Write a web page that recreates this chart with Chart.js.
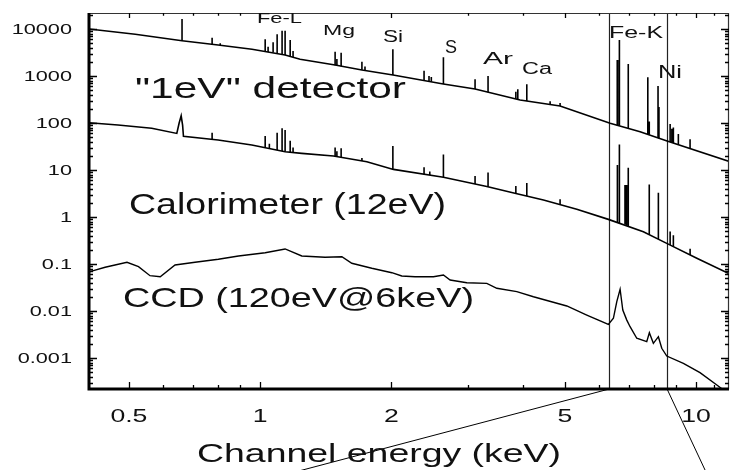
<!DOCTYPE html>
<html>
<head>
<meta charset="utf-8">
<script src="https://cdn.jsdelivr.net/npm/chart.js@4.4.1/dist/chart.umd.min.js"></script>
<style>
  html, body { margin: 0; padding: 0; background: #fff; }
  canvas { display: block; }
</style>
</head>
<body>
<canvas id="spec" width="732" height="470"></canvas>
<script>
// ---- data (energy in keV, counts per channel) ----

// "1eV" detector continuum
const ev1Energy = [0.405, 0.517, 0.662, 0.801, 0.958, 1.141, 1.235, 1.486, 1.712, 2.018, 2.632, 3.112, 3.947, 4.876, 6.35, 7.44, 8.58, 11.97];
const ev1Counts = [10000, 7710, 5640, 4570, 3700, 2800, 2270, 1710, 1340, 1050, 676, 529, 309, 230, 98.6, 65.3, 41.4, 15.0];

// "1eV" detector emission lines: energy, foot, peak
const ev1LineEnergy = [0.662, 0.776, 0.81, 1.027, 1.043, 1.071, 1.094, 1.123, 1.141, 1.172, 1.19, 1.486, 1.50, 1.534, 1.712, 1.74, 2.016, 2.377, 2.44, 2.47, 2.633, 3.112, 3.333, 3.86, 3.90, 4.09, 4.626, 4.876, 6.595, 6.61, 6.67, 6.99, 7.75, 7.81, 8.18, 8.22, 8.72, 8.80, 8.87, 9.107, 9.688];
const ev1LineBase = [5640, 4730, 4550, 3300, 3250, 3150, 3000, 2900, 2800, 2650, 2550, 1700, 1680, 1620, 1340, 1310, 1050, 800, 766, 750, 676, 529, 453, 325, 322, 294, 248, 230, 89, 88, 87, 77, 57, 56, 48, 47, 39.4, 38.5, 37.4, 34.5, 28.6];
const ev1LineTop = [16300, 6530, 5000, 6040, 4200, 5200, 7710, 9200, 9200, 5800, 3400, 3290, 2300, 3130, 2020, 1600, 3700, 1300, 1000, 950, 2500, 851, 1000, 460, 521, 666, 290, 265, 2190, 2190, 5830, 1800, 940, 107, 612, 219, 95, 75, 80, 58, 45];

// Calorimeter (12eV) continuum
const calEnergy = [0.405, 0.472, 0.564, 0.644, 0.652, 0.659, 0.664, 0.667, 0.801, 0.957, 1.141, 1.246, 1.473, 1.757, 2.022, 2.633, 3.311, 3.84, 4.466, 5.326, 6.293, 7.57, 8.566, 10.04, 11.97];
const calCounts = [101, 90.6, 77.1, 60, 100, 142, 90, 52, 43.5, 34, 24.5, 22.6, 19.9, 15, 10.3, 7.0, 4.46, 3.2, 2.30, 1.46, 0.89, 0.487, 0.275, 0.132, 0.061];

// Calorimeter emission lines: energy, foot, peak
const calLineEnergy = [0.776, 1.027, 1.05, 1.094, 1.123, 1.141, 1.172, 1.19, 1.486, 1.50, 1.534, 1.712, 2.016, 2.377, 2.45, 2.633, 3.112, 3.333, 3.86, 4.09, 4.876, 6.60, 6.67, 6.87, 6.90, 6.93, 6.99, 7.81, 8.195, 8.72, 8.87, 9.69];
const calLineBase = [44.9, 29.8, 28.6, 26.6, 25.3, 24.5, 23.9, 23.6, 19.7, 19.4, 18.8, 15.6, 10.4, 8.13, 7.78, 7.0, 5.04, 4.4, 3.2, 2.79, 1.83, 0.76, 0.74, 0.69, 0.68, 0.66, 0.63, 0.42, 0.339, 0.253, 0.234, 0.155];
const calLineTop = [62, 53, 36, 62, 77, 71, 42, 30, 30, 25, 29, 18, 32.5, 11.4, 9.3, 21.5, 7.45, 8.8, 4.57, 5.3, 2.38, 12.8, 35, 4.8, 4.8, 4.8, 11.2, 4.9, 3.3, 0.49, 0.41, 0.21];

// CCD (120eV@6keV)
const ccdEnergy = [0.405, 0.441, 0.495, 0.526, 0.559, 0.590, 0.638, 0.709, 0.802, 0.892, 1.027, 1.141, 1.246, 1.409, 1.540, 1.623, 1.804, 2.005, 2.113, 2.267, 2.498, 2.633, 2.728, 2.979, 3.311, 3.491, 3.880, 4.236, 5.052, 5.615, 6.293, 6.462, 6.579, 6.695, 6.791, 6.936, 7.057, 7.311, 7.707, 7.814, 7.981, 8.195, 8.343, 8.566, 9.352, 10.21, 11.16, 11.97];
const ccdCounts = [0.068, 0.0851, 0.1087, 0.0877, 0.0564, 0.0537, 0.0952, 0.1087, 0.126, 0.148, 0.174, 0.209, 0.148, 0.139, 0.143, 0.1035, 0.081, 0.0653, 0.0556, 0.0537, 0.0537, 0.0583, 0.0457, 0.040, 0.0388, 0.0304, 0.0258, 0.0201, 0.0128, 0.0082, 0.0052, 0.0070, 0.0158, 0.029, 0.0105, 0.0064, 0.00463, 0.00263, 0.00222, 0.00345, 0.00205, 0.00284, 0.00161, 0.0011, 0.00077, 0.000487, 0.000267, 0.000163];

// Fe-K window markers
const fekBand = [6.32, 8.58];

// axes
const xRange = [0.405, 11.9];
const yRange = [2.19e-4, 21900];
const xTickValues = [0.5, 1, 2, 5, 10];
const xTickLabels = ['0.5', '1', '2', '5', '10'];
const xMinorTicks = [0.6, 0.7, 0.8, 0.9, 3, 4, 6, 7, 8, 9, 11];
const yTickValues = [0.001, 0.01, 0.1, 1, 10, 100, 1000, 10000];
const yTickLabels = ['0.001', '0.01', '0.1', '1', '10', '100', '1000', '10000'];

// ---- helpers ----
const FONT = '"Liberation Sans", Arial, Helvetica, sans-serif';

function toPoints(xs, ys) {
  return xs.map((x, i) => ({ x, y: ys[i] }));
}

// every line becomes a vertical stroke; a null breaks the path between them
function spikePoints(energy, base, top) {
  const pts = [];
  energy.forEach((e, i) => {
    pts.push({ x: e, y: base[i] }, { x: e, y: top[i] }, { x: e, y: null });
  });
  return pts;
}

// text drawn horizontally stretched, like the scanned original
function drawLabel(ctx, str, x, y, size, opt) {
  ctx.save();
  ctx.font = `${size}px ${FONT}`;
  const w = ctx.measureText(str).width;
  const sx = opt.width ? opt.width / w : (opt.sx || 1);
  const full = w * sx;
  let left = x;
  if (opt.align === 'center') left = x - full / 2;
  else if (opt.align === 'right') left = x - full;
  ctx.translate(left, y);
  ctx.scale(sx, 1);
  ctx.textAlign = 'left';
  ctx.textBaseline = 'alphabetic';
  ctx.fillStyle = '#111';
  ctx.fillText(str, 0, 0);
  ctx.restore();
}

const yMinorTicks = [];
for (let p = -4; p <= 4; p++) {
  for (let m = 2; m <= 9; m++) yMinorTicks.push(m * Math.pow(10, p));
}

const framePlugin = {
  id: 'frame',
  beforeDatasetsDraw(chart) {
    const { ctx, chartArea: a, scales: { x } } = chart;
    ctx.save();
    ctx.strokeStyle = '#222';
    ctx.lineWidth = 1.2;
    ctx.beginPath();
    fekBand.forEach(e => {
      const px = Math.round(x.getPixelForValue(e)) + 0.5;
      ctx.moveTo(px, a.top);
      ctx.lineTo(px, a.bottom);
    });
    ctx.stroke();
    ctx.restore();
  },
  afterDraw(chart) {
    const { ctx, chartArea: a, scales: { x, y } } = chart;
    ctx.save();
    ctx.strokeStyle = '#000';

    // callout lines leading down out of the Fe-K window
    const f0 = x.getPixelForValue(fekBand[0]);
    const f1 = x.getPixelForValue(fekBand[1]);
    ctx.lineWidth = 1;
    ctx.beginPath();
    ctx.moveTo(f0, a.bottom); ctx.lineTo(295, 472);
    ctx.moveTo(f1, a.bottom); ctx.lineTo(706, 472);
    ctx.stroke();

    // frame: heavy left/bottom, light top/right
    ctx.lineWidth = 1.2;
    ctx.strokeStyle = '#333';
    ctx.beginPath();
    ctx.moveTo(a.left, a.top + 0.5); ctx.lineTo(a.right, a.top + 0.5);
    ctx.moveTo(a.right - 0.5, a.top); ctx.lineTo(a.right - 0.5, a.bottom);
    ctx.stroke();
    ctx.strokeStyle = '#000';
    ctx.lineWidth = 3;
    ctx.beginPath();
    ctx.moveTo(a.left, a.top); ctx.lineTo(a.left, a.bottom + 1.5);
    ctx.moveTo(a.left - 1.5, a.bottom); ctx.lineTo(a.right, a.bottom);
    ctx.stroke();

    // inward ticks
    ctx.lineWidth = 1.3;
    ctx.beginPath();
    const yTick = (v, len) => {
      const py = Math.round(y.getPixelForValue(v)) + 0.5;
      if (py < a.top + 1 || py > a.bottom - 1) return;
      ctx.moveTo(a.left, py); ctx.lineTo(a.left + len, py);
      ctx.moveTo(a.right, py); ctx.lineTo(a.right - len, py);
    };
    yTickValues.forEach(v => yTick(v, 8));
    yMinorTicks.forEach(v => yTick(v, 4));
    const xTick = (v, len) => {
      const px = Math.round(x.getPixelForValue(v)) + 0.5;
      if (px < a.left + 1 || px > a.right - 1) return;
      ctx.moveTo(px, a.bottom); ctx.lineTo(px, a.bottom - len);
      ctx.moveTo(px, a.top); ctx.lineTo(px, a.top + len * 0.7);
    };
    xTickValues.forEach(v => xTick(v, 7));
    xMinorTicks.forEach(v => xTick(v, 4));
    ctx.stroke();
    ctx.restore();

    // tick labels
    yTickValues.forEach((v, i) => {
      drawLabel(ctx, yTickLabels[i], 72, y.getPixelForValue(v) + 5, 14, { sx: 1.55, align: 'right' });
    });
    xTickValues.forEach((v, i) => {
      drawLabel(ctx, xTickLabels[i], x.getPixelForValue(v), 422, 19, { sx: 1.4, align: 'center' });
    });

    // axis title and annotations
    drawLabel(ctx, 'Channel energy (keV)', 197, 461.5, 26, { width: 364 });
    drawLabel(ctx, '"1eV" detector', 135, 97.5, 29, { width: 271 });
    drawLabel(ctx, 'Calorimeter (12eV)', 129, 213.5, 29, { width: 317 });
    drawLabel(ctx, 'CCD (120eV@6keV)', 123, 306.5, 28, { width: 351 });

    drawLabel(ctx, 'Fe-L', 257, 23, 14, { width: 45 });
    drawLabel(ctx, 'Mg', 323, 35, 15, { width: 32 });
    drawLabel(ctx, 'Si', 383, 41.7, 16, { width: 20 });
    drawLabel(ctx, 'S', 445, 52.5, 18, { width: 12 });
    drawLabel(ctx, 'Ar', 483, 64, 16, { width: 30 });
    drawLabel(ctx, 'Ca', 522, 74, 16, { width: 30 });
    drawLabel(ctx, 'Fe-K', 609, 38, 17, { width: 54 });
    drawLabel(ctx, 'Ni', 658, 78, 18, { width: 24 });
  }
};

const lineStyle = {
  showLine: true,
  borderColor: '#000',
  borderWidth: 1.6,
  pointRadius: 0,
  pointHoverRadius: 0,
  tension: 0,
  spanGaps: false,
};

new Chart(document.getElementById('spec'), {
  type: 'scatter',
  data: {
    datasets: [
      { ...lineStyle, label: '"1eV" detector', data: toPoints(ev1Energy, ev1Counts) },
      { ...lineStyle, label: '"1eV" lines', data: spikePoints(ev1LineEnergy, ev1LineBase, ev1LineTop) },
      { ...lineStyle, label: 'Calorimeter (12eV)', data: toPoints(calEnergy, calCounts) },
      { ...lineStyle, label: 'Calorimeter lines', data: spikePoints(calLineEnergy, calLineBase, calLineTop) },
      { ...lineStyle, label: 'CCD (120eV@6keV)', borderWidth: 1.4, data: toPoints(ccdEnergy, ccdCounts) },
    ]
  },
  options: {
    responsive: false,
    animation: false,
    devicePixelRatio: 1,
    layout: { padding: { left: 89, top: 13, right: 3, bottom: 81 } },
    scales: {
      x: { type: 'logarithmic', display: false, min: xRange[0], max: xRange[1], bounds: 'data' },
      y: { type: 'logarithmic', display: false, min: yRange[0], max: yRange[1], bounds: 'data' },
    },
    plugins: {
      legend: { display: false },
      tooltip: { enabled: false },
    },
  },
  plugins: [framePlugin],
});
</script>
</body>
</html>
